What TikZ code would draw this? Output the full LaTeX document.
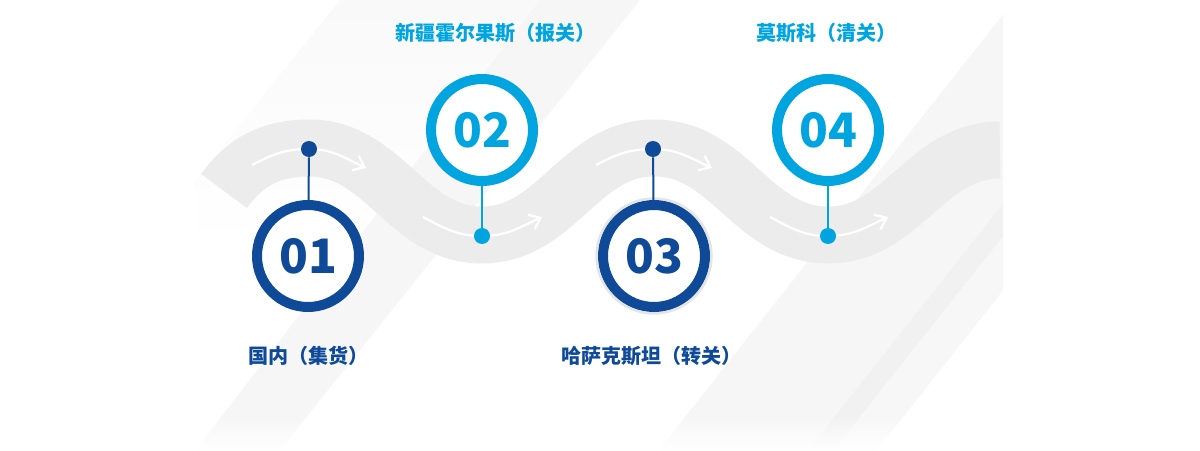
\documentclass[tikz,border=0pt]{standalone}
\usepackage{fontspec}
\usepackage{xcolor}
\usepackage{tikz}
\usetikzlibrary{arrows.meta,fadings}
\newfontfamily\cjk{Noto Sans CJK SC}
\definecolor{deepblue}{HTML}{0E4A98}
\definecolor{skyblue}{HTML}{00A5E0}
\definecolor{roadgray}{HTML}{ECECEC}

\begin{document}
\begin{tikzpicture}[
  x=0.02cm, y=0.02cm,
  ring/.style={circle, line width=0.2cm, fill=white, minimum size=2.04cm, inner sep=0pt, font=\cjk\bfseries\fontsize{27}{30}\selectfont},
  ringdark/.style={ring, draw=deepblue, text=deepblue},
  ringlight/.style={ring, draw=skyblue, text=skyblue},
  pindot/.style={circle, inner sep=0pt, minimum size=0.32cm},
  stem/.style={line width=0.04cm},
  road/.style={line width=1.14cm, roadgray},
  roadarr/.style={white, line width=0.045cm, -{Straight Barb[length=2mm,width=3.2mm]}},
  placename/.style={font=\cjk\bfseries\fontsize{11.4}{13}\selectfont, inner sep=0pt, anchor=west},
  stripe/.style={fill=black!3.5},
  glow/.style={black!20, line width=0.05cm, opacity=0.5}
]
\useasboundingbox (0,0) rectangle (1200,450);

\begin{scope}
\clip (195,0) rectangle (1003,450);
\fill[black!2.5, path fading=south] (340,450) -- (545,450) -- (345,200) -- (140,200) -- cycle;
\fill[stripe] (196,0) -- (280,0) -- (640,450) -- (540,450) -- cycle;
\fill[stripe] (659,0) -- (808,0) -- (1005,249) -- (1005,438) -- cycle;
\fill[black!5.5] (808,0) -- (834,0) -- (1005,216) -- (1005,249) -- cycle;
\fill[black!3] (834,0) -- (877,0) -- (1005,162) -- (1005,216) -- cycle;
\fill[white, path fading=north] (190,0) rectangle (1005,35);
\end{scope}

\coordinate (r0) at (224,259);
\coordinate (r1) at (309,302);
\coordinate (r2) at (482,215);
\coordinate (r3) at (654,302);
\coordinate (r4) at (828,215);
\coordinate (r5) at (1000,300);
\draw[road] (r0) to[out=54,in=180] (r1) to[out=0,in=180] (r2) to[out=0,in=180] (r3)
  to[out=0,in=180] (r4) to[out=0,in=180] (r5);

\coordinate (p1) at (309,301);
\coordinate (p2) at (482,214);
\coordinate (p3) at (653,301);
\coordinate (p4) at (828,214);

\coordinate (a1s) at (252,285);
\coordinate (a1e) at (366,282);
\coordinate (a2s) at (423,233);
\coordinate (a2e) at (542,233);
\coordinate (a3s) at (596,285);
\coordinate (a3e) at (712,282);
\coordinate (a4s) at (770,233);
\coordinate (a4e) at (888,233);

\draw[roadarr] (a1s) to[out=28,in=180] (p1) to[out=0,in=155] (a1e);
\draw[roadarr] (a2s) to[out=-28,in=180] (p2) to[out=0,in=-155] (a2e);
\draw[roadarr] (a3s) to[out=28,in=180] (p3) to[out=0,in=155] (a3e);
\draw[roadarr] (a4s) to[out=-28,in=180] (p4) to[out=0,in=-155] (a4e);

\node[pindot, fill=deepblue] (d1) at (p1) {};
\node[pindot, fill=skyblue] (d2) at (p2) {};
\node[pindot, fill=deepblue] (d3) at (p3) {};
\node[pindot, fill=skyblue] (d4) at (p4) {};

\node[ringdark] (c1) at (308,194) {01};
\node[ringlight] (c2) at (482,320) {02};
\node[ringdark] (c3) at (654,194) {03};
\node[ringlight] (c4) at (828,320) {04};
\draw[glow] (c3.center) circle[radius=57.5];

\draw[stem, deepblue] (d1) -- (c1);
\draw[stem, skyblue] (c2) -- (d2);
\draw[stem, deepblue] (d3) -- (c3);
\draw[stem, skyblue] (c4) -- (d4);

\node[placename, text=deepblue] (t1) at (248,94) {国内（集货）};
\node[placename, text=skyblue] (t2) at (395,417) {新疆霍尔果斯（报关）};
\node[placename, text=deepblue] (t3) at (561,94) {哈萨克斯坦（转关）};
\node[placename, text=skyblue] (t4) at (756,417) {莫斯科（清关）};
\end{tikzpicture}
\end{document}
